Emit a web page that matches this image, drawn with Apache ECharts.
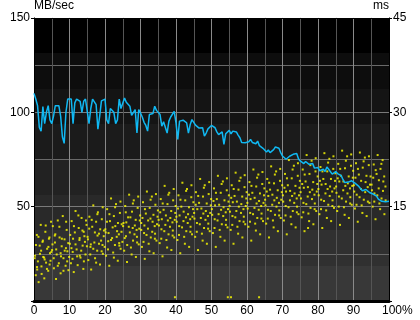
<!DOCTYPE html>
<html><head><meta charset="utf-8">
<script src="https://cdn.jsdelivr.net/npm/echarts@6/dist/echarts.min.js"></script>
<style>html,body{margin:0;padding:0;background:#fff}#c{width:420px;height:320px}</style>
</head><body><div id="c"></div>
<script>
// Transfer rate (MB/sec), sampled every 0.5% of the disk
var transferStep = 0.5;
var transferRate = [
110,107,103.5,92,90,103,94,100,103.5,96,94,98,103.5,103.5,103.5,98,87,83.5,100,107,
107,107,94,105,107,106,105.8,100,105.8,107,106,94,102,107,106,104,91,98,106,107,
107,96,94,102,103,100,94,96,107,102,
102.1,107.5,105.3,105.4,103.2,98.3,99.3,101.4,89,101.4,99.6,97.5,94.7,93,90,98.8,98.8,99.3,103.2,101,
101.8,98.8,92.6,95,95.3,89,95.3,97.5,96.5,100.5,94.4,85.6,95.3,94.4,95.8,95.8,94.4,89,93.5,96.1,
95.3,93.2,92.6,91.6,91.2,91.8,87.4,89,91.2,91.8,93,
92.4,91.8,89.6,88.2,88.8,89.6,83,88.6,89.6,90.4,88.6,90,90.4,89.6,87.9,86.5,84,83.7,83.9,84.7,
84.4,85.6,84,83.9,83.3,84.7,82.3,83,80.9,81.2,78.9,80,78.6,78.1,80.2,81.6,81.6,80.9,78.6,76.8,
76.5,75.1,75.1,76.7,76.3,77.7,78.1,78.1,75.4,74.2,
73.9,72.8,73.9,73.9,72.4,73.2,72.8,70.4,70,70.7,69,68.6,69.8,68.6,71,69.8,69.3,67.2,66.8,68.6,
67.5,67.5,66.5,64.6,62.8,62.3,63,63.7,63.7,63.3,62.3,62.8,60.7,59.8,58.4,58.4,59.1,59.1,57.5,58.4,
56.7,55.8,55.6,54,54.2,52.8,52.3,52.6,52.8,52.8
];
// Access time points: [position %, ms]
var accessPoints = [
[0.3,7.2],[0.5,4.1],[0.8,10.5],[1.1,6.3],[1.3,3.0],[1.6,8.8],[1.9,12.1],[2.1,5.5],[2.4,9.4],[2.6,7.0],[2.9,3.6],[3.2,11.0],[3.4,6.1],[3.7,8.3],[4.0,4.8],[4.2,9.9],[4.5,7.6],[4.8,12.6],[0.9,5.0],[2.0,8.0],[3.0,6.6],[4.4,5.8],
[5.1,8.1],[5.3,11.9],[5.6,5.2],[5.9,9.3],[6.2,3.5],[6.4,7.4],[6.7,12.8],[7.0,6.0],[7.2,10.1],[7.5,4.4],[7.8,8.7],[8.1,13.5],[8.3,6.8],[8.6,9.8],[8.9,5.6],[9.2,11.3],[9.4,7.9],[9.7,4.9],[6.0,10.6],[7.6,7.1],[9.0,8.4],
[10.1,9.1],[10.4,6.0],[10.6,12.7],[10.9,7.8],[11.2,4.6],[11.5,10.9],[11.7,14.3],[12.0,8.2],[12.3,5.7],[12.6,11.6],[12.8,9.7],[13.1,6.9],[13.4,13.2],[13.7,8.8],[13.9,5.1],[14.2,10.3],[14.5,7.4],[14.8,12.1],[11.0,9.9],[12.9,7.2],[14.0,11.0],
[15.1,10.2],[15.3,6.5],[15.6,13.4],[15.9,8.6],[16.1,5.0],[16.4,11.8],[16.7,15.2],[17.0,9.3],[17.2,6.8],[17.5,12.6],[17.8,8.0],[18.0,14.1],[18.3,10.7],[18.6,5.8],[18.9,9.6],[19.1,13.0],[19.4,7.5],[19.7,11.2],[16.0,9.0],[17.9,10.4],[19.3,8.9],
[20.1,11.4],[20.3,7.2],[20.6,14.6],[20.9,9.5],[21.2,5.6],[21.4,12.7],[21.7,16.3],[22.0,10.0],[22.3,7.7],[22.5,13.5],[22.8,8.9],[23.1,15.4],[23.4,11.1],[23.6,6.4],[23.9,10.6],[24.2,14.0],[24.4,8.3],[24.7,12.2],[21.0,10.8],[22.9,11.9],[24.0,9.2],
[25.1,11.9],[25.4,8.0],[25.7,15.1],[25.9,10.3],[26.2,6.2],[26.5,13.3],[26.8,16.9],[27.0,10.9],[27.3,8.5],[27.6,14.2],[27.9,9.6],[28.1,16.0],[28.4,12.0],[28.7,7.0],[28.9,11.3],[29.2,14.8],[29.5,9.0],[29.8,12.8],[26.0,12.5],[27.8,11.6],[29.0,10.2],
[30.2,12.4],[30.4,8.6],[30.7,15.7],[31.0,10.8],[31.2,6.7],[31.5,13.9],[31.8,17.4],[32.1,11.5],[32.3,9.1],[32.6,14.8],[32.9,10.1],[33.2,16.6],[33.4,12.6],[33.7,7.6],[34.0,11.9],[34.2,15.3],[34.5,9.6],[34.8,13.4],[31.1,12.0],[32.8,13.1],[34.1,10.7],
[35.1,12.9],[35.4,9.2],[35.7,16.2],[35.9,11.4],[36.2,7.1],[36.5,14.5],[36.8,18.3],[37.0,12.1],[37.3,9.7],[37.6,15.4],[37.9,10.6],[38.1,17.2],[38.4,13.2],[38.7,8.1],[39.0,12.5],[39.2,16.0],[39.5,10.1],[39.8,14.0],[36.0,13.0],[37.7,12.8],[39.1,11.2],[39.7,0.6],
[40.1,13.4],[40.4,9.7],[40.7,16.8],[40.9,11.9],[41.2,7.6],[41.5,15.0],[41.8,18.8],[42.1,12.7],[42.3,10.2],[42.6,16.0],[42.9,11.1],[43.1,17.8],[43.4,13.8],[43.7,8.6],[44.0,13.0],[44.3,16.5],[44.5,10.6],[44.8,14.6],[41.0,13.6],[42.8,13.3],[44.1,11.8],
[45.1,14.0],[45.4,10.2],[45.6,17.3],[45.9,12.4],[46.2,8.1],[46.5,15.6],[46.8,19.4],[47.0,13.2],[47.3,10.7],[47.6,16.6],[47.9,11.6],[48.1,18.4],[48.4,14.3],[48.7,9.1],[49.0,13.5],[49.2,17.0],[49.5,11.1],[49.8,15.2],[46.0,14.6],[47.7,13.9],[49.1,12.3],
[50.1,14.6],[50.4,10.8],[50.7,17.9],[50.9,13.0],[51.2,8.6],[51.5,16.2],[51.8,19.9],[52.0,13.8],[52.3,11.3],[52.6,17.2],[52.9,12.2],[53.2,19.0],[53.4,14.9],[53.7,9.6],[54.0,14.1],[54.3,17.6],[54.5,11.7],[54.8,15.8],[51.0,15.2],[52.7,14.5],[54.1,12.9],[54.6,0.6],
[55.1,15.1],[55.4,11.3],[55.7,18.4],[55.9,13.5],[56.2,9.1],[56.5,16.7],[56.8,20.4],[57.0,14.3],[57.3,11.8],[57.6,17.7],[57.9,12.7],[58.2,19.6],[58.4,15.4],[58.7,10.1],[59.0,14.6],[59.3,18.1],[59.5,12.2],[59.8,16.3],[56.0,15.7],[57.7,15.0],[59.1,13.4],[55.5,0.6],
[60.1,15.6],[60.4,11.8],[60.7,18.9],[60.9,14.0],[61.2,9.6],[61.5,17.2],[61.8,20.9],[62.1,14.8],[62.3,12.3],[62.6,18.2],[62.9,13.2],[63.2,20.1],[63.4,15.9],[63.7,10.6],[64.0,15.1],[64.3,18.6],[64.5,12.7],[64.8,16.8],[61.0,16.2],[62.7,15.5],[64.1,13.9],[63.4,0.6],
[65.1,16.1],[65.4,12.3],[65.7,19.4],[65.9,14.5],[66.2,10.1],[66.5,17.7],[66.8,21.4],[67.1,15.3],[67.3,12.8],[67.6,18.7],[67.9,13.7],[68.2,20.6],[68.4,16.4],[68.7,11.1],[69.0,15.6],[69.3,19.1],[69.5,13.2],[69.8,17.3],[66.0,16.7],[67.7,16.0],[69.1,14.4],
[70.1,16.8],[70.4,12.8],[70.7,20.2],[70.9,15.1],[71.2,10.6],[71.5,18.4],[71.8,22.4],[72.1,16.0],[72.3,13.4],[72.6,19.5],[72.9,14.3],[73.2,21.5],[73.4,17.1],[73.7,11.7],[74.0,16.3],[74.3,19.9],[74.5,13.8],[74.8,18.0],[71.0,17.4],[72.7,16.7],[74.1,15.0],
[75.1,17.3],[75.4,13.3],[75.7,20.9],[75.9,15.6],[76.2,11.1],[76.5,19.0],[76.8,23.2],[77.1,16.6],[77.3,13.9],[77.6,20.2],[77.9,14.8],[78.2,22.3],[78.4,17.7],[78.7,12.2],[79.0,16.9],[79.3,20.6],[79.5,14.3],[79.8,18.6],[76.0,18.0],[77.7,17.3],[79.1,15.5],[77.2,11.6],
[80.1,17.8],[80.4,13.8],[80.7,21.3],[80.9,16.1],[81.2,11.6],[81.5,19.4],[81.8,23.5],[82.1,17.1],[82.3,14.4],[82.6,20.6],[82.9,15.3],[83.2,22.6],[83.4,18.2],[83.7,12.7],[84.0,17.4],[84.3,21.0],[84.5,14.8],[84.8,19.1],[81.0,18.5],[82.7,17.8],[84.1,16.0],
[85.1,18.2],[85.4,14.3],[85.7,21.8],[85.9,16.6],[86.2,12.1],[86.5,19.9],[86.8,23.9],[87.1,17.6],[87.3,14.9],[87.6,21.1],[87.9,15.8],[88.2,23.0],[88.4,18.7],[88.7,13.2],[89.0,17.9],[89.3,21.5],[89.5,15.3],[89.8,19.6],[86.0,19.0],[87.7,18.3],[89.1,16.5],
[90.1,18.4],[90.4,14.7],[90.7,21.9],[90.9,16.9],[91.2,12.6],[91.5,20.1],[91.8,23.6],[92.1,17.8],[92.3,15.2],[92.6,21.2],[92.9,16.1],[93.2,22.8],[93.4,18.9],[93.7,13.5],[94.0,18.1],[94.3,21.6],[94.5,15.6],[94.8,19.8],
[95.1,18.5],[95.4,15.0],[95.7,21.7],[95.9,17.1],[96.2,13.0],[96.5,20.2],[96.8,23.2],[97.1,17.9],[97.3,15.5],[97.6,21.0],[97.9,16.3],[98.2,22.4],[98.4,19.0],[98.7,13.8],[99.0,18.2],
[0.2,6.8],[0.55,8.9],[0.85,5.4],[1.25,10.2],[1.7,7.5],[2.15,4.3],[2.5,9.6],[2.85,6.9],[3.3,12.0],[3.65,5.1],[4.05,8.6],[4.35,10.1],[4.65,6.4],[4.9,7.8],
[5.2,9.0],[5.55,6.8],[5.85,10.4],[6.25,8.2],[6.7,5.6],[7.15,11.8],[7.5,7.6],[7.85,9.9],[8.3,4.8],[8.65,8.0],[9.05,12.6],[9.35,6.3],[9.65,9.2],[9.9,7.0],
[10.2,10.5],[10.55,8.4],[10.85,6.7],[11.25,11.9],[11.7,9.0],[12.15,7.1],[12.5,13.6],[12.85,10.0],[13.3,8.0],[13.65,11.2],[14.05,6.3],[14.35,9.4],[14.65,12.8],[14.9,8.7],
[15.2,9.8],[15.55,11.5],[15.85,7.4],[16.25,12.9],[16.7,8.3],[17.15,10.9],[17.5,6.1],[17.85,13.8],[18.3,9.1],[18.65,11.4],[19.05,7.9],[19.35,14.9],[19.65,10.3],[19.9,8.6],
[20.2,10.9],[20.55,12.6],[20.85,8.2],[21.25,13.8],[21.7,9.7],[22.15,11.7],[22.5,6.9],[22.85,14.9],[23.3,10.2],[23.65,12.4],[24.05,8.8],[24.35,15.8],[24.65,11.0],[24.9,9.4],
[25.2,12.4],[25.55,10.0],[25.85,14.1],[26.25,8.9],[26.7,11.8],[27.15,13.3],[27.5,7.4],[27.85,15.5],[28.3,10.6],[28.65,12.9],[29.05,9.3],[29.35,16.6],[29.65,11.5],[29.9,13.6],
[30.2,11.3],[30.55,13.2],[30.85,9.4],[31.25,14.6],[31.7,10.5],[32.15,12.8],[32.5,7.9],[32.85,16.1],[33.3,11.0],[33.65,13.7],[34.05,9.9],[34.35,17.0],[34.65,12.2],[34.9,14.4],
[35.2,12.0],[35.55,14.1],[35.85,9.9],[36.25,15.5],[36.7,11.1],[37.15,13.6],[37.5,8.5],[37.85,16.9],[38.3,11.8],[38.65,14.3],[39.05,10.4],[39.35,17.8],[39.65,12.9],[39.9,15.1],
[40.2,12.6],[40.55,14.7],[40.85,10.5],[41.25,16.1],[41.7,11.7],[42.15,14.2],[42.5,9.1],[42.85,17.5],[43.3,12.4],[43.65,14.9],[44.05,11.0],[44.35,18.4],[44.65,13.4],[44.9,15.7],
[45.2,13.1],[45.55,15.3],[45.85,11.0],[46.25,16.7],[46.7,12.2],[47.15,14.7],[47.5,9.6],[47.85,18.0],[48.3,12.9],[48.65,15.5],[49.05,11.5],[49.35,18.9],[49.65,14.0],[49.9,16.2],
[50.2,13.7],[50.55,15.9],[50.85,11.6],[51.25,17.2],[51.7,12.8],[52.15,15.3],[52.5,10.2],[52.85,18.6],[53.3,13.5],[53.65,16.0],[54.05,12.1],[54.35,19.5],[54.65,14.6],[54.9,16.8],
[55.2,14.2],[55.55,16.4],[55.85,12.1],[56.25,17.8],[56.7,13.3],[57.15,15.8],[57.5,10.7],[57.85,19.1],[58.3,14.0],[58.65,16.6],[59.05,12.6],[59.35,20.0],[59.65,15.1],[59.9,17.3],
[60.2,14.7],[60.55,16.9],[60.85,12.6],[61.25,18.3],[61.7,13.8],[62.15,16.4],[62.5,11.2],[62.85,19.6],[63.3,14.5],[63.65,17.1],[64.05,13.1],[64.35,20.5],[64.65,15.6],[64.9,17.9],
[65.2,15.2],[65.55,17.4],[65.85,13.1],[66.25,18.8],[66.7,14.3],[67.15,16.9],[67.5,11.7],[67.85,20.1],[68.3,15.0],[68.65,17.6],[69.05,13.6],[69.35,21.0],[69.65,16.1],[69.9,18.4],
[70.2,15.8],[70.55,18.0],[70.85,13.6],[71.25,19.5],[71.7,14.9],[72.15,17.5],[72.5,12.2],[72.85,20.9],[73.3,15.6],[73.65,18.3],[74.05,14.1],[74.35,21.9],[74.65,16.8],[74.9,19.1],
[75.2,16.3],[75.55,18.6],[75.85,14.1],[76.25,20.1],[76.7,15.4],[77.15,18.1],[77.5,12.7],[77.85,21.6],[78.3,16.2],[78.65,18.9],[79.05,14.6],[79.35,22.7],[79.65,17.4],[79.9,19.8],
[80.2,16.8],[80.55,19.1],[80.85,14.6],[81.25,20.6],[81.7,15.9],[82.15,18.6],[82.5,13.2],[82.85,22.0],[83.3,16.7],[83.65,19.4],[84.05,15.1],[84.35,23.0],[84.65,17.9],[84.9,20.3],
[85.2,17.2],[85.55,19.5],[85.85,15.0],[86.25,21.0],[86.7,16.3],[87.15,19.0],[87.5,13.7],[87.85,22.3],[88.3,17.1],[88.65,19.8],[89.05,15.5],[89.35,23.3],[89.65,18.3],[89.9,20.7],
[90.2,17.4],[90.55,19.6],[90.85,15.3],[91.25,21.0],[91.7,16.5],[92.15,19.1],[92.5,14.0],[92.85,22.2],[93.3,17.3],[93.65,19.9],[94.05,15.8],[94.35,23.0],[94.65,18.5],
[95.2,17.6],[95.55,19.6],[95.85,15.8],[96.25,20.8],[96.7,16.8],[97.15,19.2],[97.5,14.6],[97.85,21.8],[98.3,17.5],[98.65,19.8],[99.05,16.0]
];
var bandColors = ['#000000','#0d0d0d','#141414','#1b1b1b','#222222','#292929','#303030','#383838'];

var stops = [];
bandColors.forEach(function(c, i){
  stops.push({offset: i / bandColors.length, color: c});
  stops.push({offset: (i + 1) / bandColors.length, color: c});
});
var lineData = transferRate.map(function(v, i){ return [i * transferStep, v]; });

var chart = echarts.init(document.getElementById('c'), null, {renderer: 'canvas'});
var font = 'Liberation Sans, Arial, sans-serif';
chart.setOption({
  animation: false,
  backgroundColor: '#ffffff',
  grid: {
    left: 34, right: 31, top: 17, bottom: 19,
    show: true, borderWidth: 0,
    backgroundColor: new echarts.graphic.LinearGradient(0, 0, 0, 1, stops)
  },
  xAxis: [{
    type: 'value', min: 0, max: 100, interval: 10,
    axisLine: {show: true, onZero: false, lineStyle: {color: '#000', width: 3}},
    axisTick: {show: false},
    axisLabel: {color: '#000', fontSize: 12, fontFamily: font, margin: 4,
      formatter: function(v){ return v === 100 ? '     100%' : String(v); }},
    splitLine: {show: true, lineStyle: {color: '#8a8a8a', width: 1}},
    minorTick: {show: false, splitNumber: 2},
    minorSplitLine: {show: true, lineStyle: {color: '#555555', width: 1}}
  }, {
    type: 'value', min: 0, max: 100, position: 'top',
    axisLine: {show: true, onZero: false, lineStyle: {color: '#000', width: 1}},
    axisTick: {show: false}, axisLabel: {show: false}, splitLine: {show: false}
  }],
  yAxis: [{
    type: 'value', min: 0, max: 150, interval: 50, position: 'left',
    name: 'MB/sec', nameLocation: 'end', nameGap: 2,
    nameTextStyle: {color: '#000', fontSize: 12, fontFamily: font, align: 'left', verticalAlign: 'bottom'},
    axisLine: {show: true, onZero: false, lineStyle: {color: '#000', width: 1}},
    axisTick: {show: true, length: 3, lineStyle: {color: '#000'}},
    axisLabel: {color: '#000', fontSize: 12, fontFamily: font, margin: 4,
      formatter: function(v){ return v === 0 ? '' : String(v); }},
    splitLine: {show: true, lineStyle: {color: '#7a7a7a', width: 1}},
    minorTick: {show: false, splitNumber: 2},
    minorSplitLine: {show: true, lineStyle: {color: '#6a6a6a', width: 1}}
  }, {
    type: 'value', min: 0, max: 45, interval: 15, position: 'right',
    name: 'ms', nameLocation: 'end', nameGap: 2,
    nameTextStyle: {color: '#000', fontSize: 12, fontFamily: font, align: 'right', verticalAlign: 'bottom'},
    axisLine: {show: true, onZero: false, lineStyle: {color: '#000', width: 1}},
    axisTick: {show: true, length: 3, lineStyle: {color: '#000'}},
    axisLabel: {color: '#000', fontSize: 12, fontFamily: font, margin: 4,
      formatter: function(v){ return v === 0 ? '' : String(v); }},
    splitLine: {show: false}
  }],
  series: [{
    type: 'scatter', yAxisIndex: 1, data: accessPoints,
    symbol: 'rect', symbolSize: 2,
    itemStyle: {color: '#ffff00'}
  }, {
    type: 'line', yAxisIndex: 0, data: lineData,
    showSymbol: false, symbol: 'none',
    lineStyle: {color: '#10b8f2', width: 1.5}
  }]
});
</script></body></html>
